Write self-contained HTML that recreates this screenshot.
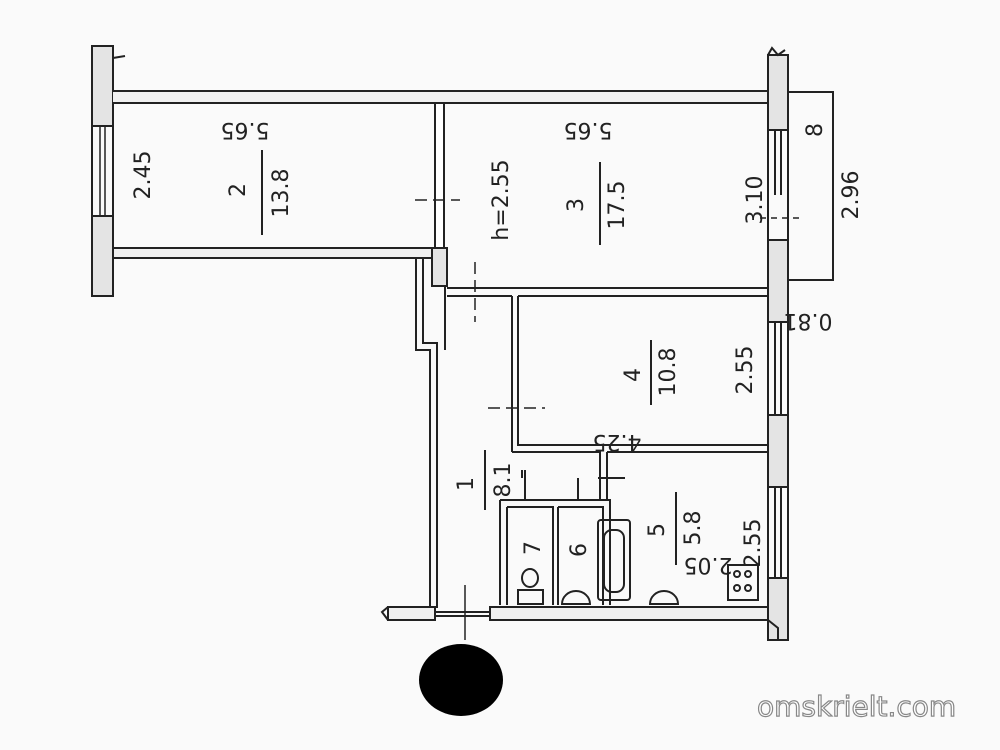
<!DOCTYPE html>
<html><head><meta charset="utf-8"><style>
html,body{margin:0;padding:0;background:#fff;}
svg{display:block;}
text{font-family:"DejaVu Sans","Liberation Sans",sans-serif;fill:#222;}
</style></head><body>
<svg width="1000" height="750" viewBox="0 0 1000 750" xmlns="http://www.w3.org/2000/svg">
<rect width="1000" height="750" fill="#fafafa"/>
<g stroke="#222" stroke-width="2" fill="none">
<rect x="92" y="46" width="21" height="80" fill="#e4e4e4"/>
<rect x="92" y="216" width="21" height="80" fill="#e4e4e4"/>
<line x1="92" y1="126" x2="92" y2="216"/><line x1="113" y1="126" x2="113" y2="216"/>
<line x1="100" y1="126" x2="100" y2="216" stroke-width="1.5"/><line x1="105" y1="126" x2="105" y2="216" stroke-width="1.5"/>
<path d="M113 58 L125 56"/>
<path d="M113 91 H770 M113 103 H770" fill="none"/>
<rect x="113" y="92" width="657" height="10" fill="#f0f0f0" stroke="none"/>
<rect x="113" y="248" width="320" height="10" fill="#f0f0f0"/>
<rect x="432" y="248" width="15" height="38" fill="#e4e4e4"/>
<rect x="435" y="103" width="9" height="145" fill="#fff"/>
<line x1="415" y1="200" x2="460" y2="200" stroke-dasharray="12,6" stroke-width="1.5"/>
<rect x="768" y="55" width="20" height="75" fill="#e4e4e4"/>
<rect x="768" y="240" width="20" height="82" fill="#e4e4e4"/>
<rect x="768" y="415" width="20" height="72" fill="#e4e4e4"/>
<rect x="768" y="578" width="20" height="62" fill="#e4e4e4"/>
<path d="M768 130V240M788 130V240M775 130V195M781 130V195M768 322V415M788 322V415M775 322V415M781 322V415M768 487V578M788 487V578M775 487V578M781 487V578"/>
<path d="M768 55 L772 48 L778 55 L785 50" />
<line x1="760" y1="218" x2="800" y2="218" stroke-dasharray="6,5" stroke-width="1.5"/>
<path d="M788 92 H833 V280 H788"/>
<path d="M447 288 H768 M447 296 H512"/>
<path d="M512 296 V452 M518 296 H768 M518 296 V445 H768 M512 452 H600 V500 M607 452 V500 M607 452 H768"/>
<line x1="475" y1="262" x2="475" y2="322" stroke-dasharray="12,6" stroke-width="1.5"/>
<line x1="488" y1="408" x2="545" y2="408" stroke-dasharray="12,6" stroke-width="1.5"/>
<path d="M416 258 V350 H430 V608 M423 258 V343 H437 V608 M445 286 V350"/>
<path d="M500 500 H610 V605 M507 507 H553 V605 M507 507 V605 M500 500 V605 M558 507 H603 V605 M558 507 V605"/>
<rect x="598" y="520" width="32" height="80" rx="3"/>
<rect x="604" y="530" width="20" height="62" rx="8"/>
<path d="M525 470V500 M578 478V500 M598 478H625 M522 478V470"/>
<ellipse cx="530" cy="578" rx="8" ry="9"/>
<rect x="518" y="590" width="25" height="14"/>
<path d="M562 604 A14 13 0 0 1 590 604Z"/>
<path d="M650 604 A14 13 0 0 1 678 604Z"/>
<rect x="728" y="565" width="30" height="35"/>
<circle cx="737" cy="574" r="3"/><circle cx="748" cy="574" r="3"/><circle cx="737" cy="588" r="3"/><circle cx="748" cy="588" r="3"/>
<rect x="388" y="607" width="47" height="13" fill="#f0f0f0"/>
<rect x="490" y="607" width="278" height="13" fill="#f0f0f0"/>
<path d="M435 612 H490 M435 616 H490"/>
<path d="M768 620 L778 628 L778 640 L788 640 M388 607 L382 612 L388 620"/>
<line x1="465" y1="585" x2="465" y2="640" stroke-width="1.5"/>
</g>
<ellipse cx="461" cy="680" rx="42" ry="36" fill="#000"/>
<g font-size="22">
<text transform="translate(150,175) rotate(-90)" text-anchor="middle">2.45</text>
<text transform="translate(245,123) rotate(180)" text-anchor="middle">5.65</text>
<text transform="translate(588,123) rotate(180)" text-anchor="middle">5.65</text>
<text transform="translate(245,190) rotate(-90)" text-anchor="middle">2</text>
<text transform="translate(288,193) rotate(-90)" text-anchor="middle">13.8</text>
<line x1="262" y1="150" x2="262" y2="235" stroke="#222" stroke-width="2"/>
<text transform="translate(508,200) rotate(-90)" text-anchor="middle">h=2.55</text>
<text transform="translate(583,205) rotate(-90)" text-anchor="middle">3</text>
<line x1="600" y1="162" x2="600" y2="245" stroke="#222" stroke-width="2"/>
<text transform="translate(624,205) rotate(-90)" text-anchor="middle">17.5</text>
<text transform="translate(762,200) rotate(-90)" text-anchor="middle">3.10</text>
<text transform="translate(822,130) rotate(-90)" text-anchor="middle">8</text>
<text transform="translate(858,195) rotate(-90)" text-anchor="middle">2.96</text>
<text transform="translate(808,314) rotate(180)" text-anchor="middle">0.81</text>
<text transform="translate(640,375) rotate(-90)" text-anchor="middle">4</text>
<line x1="651" y1="340" x2="651" y2="405" stroke="#222" stroke-width="2"/>
<text transform="translate(675,372) rotate(-90)" text-anchor="middle">10.8</text>
<text transform="translate(752,370) rotate(-90)" text-anchor="middle">2.55</text>
<text transform="translate(617,435) rotate(180)" text-anchor="middle">4.25</text>
<text transform="translate(473,484) rotate(-90)" text-anchor="middle">1</text>
<line x1="485" y1="450" x2="485" y2="510" stroke="#222" stroke-width="2"/>
<text transform="translate(510,480) rotate(-90)" text-anchor="middle">8.1</text>
<text transform="translate(540,548) rotate(-90)" text-anchor="middle">7</text>
<text transform="translate(586,550) rotate(-90)" text-anchor="middle">6</text>
<text transform="translate(664,530) rotate(-90)" text-anchor="middle">5</text>
<line x1="676" y1="492" x2="676" y2="565" stroke="#222" stroke-width="2"/>
<text transform="translate(700,528) rotate(-90)" text-anchor="middle">5.8</text>
<text transform="translate(760,543) rotate(-90)" text-anchor="middle">2.55</text>
<text transform="translate(708,558) rotate(180)" text-anchor="middle">2.05</text>
</g>
<text x="757" y="716" font-size="28" style="fill:#fff;stroke:#888;stroke-width:1.2;font-family:'DejaVu Sans',sans-serif">omskrielt.com</text>
</svg>
</body></html>
